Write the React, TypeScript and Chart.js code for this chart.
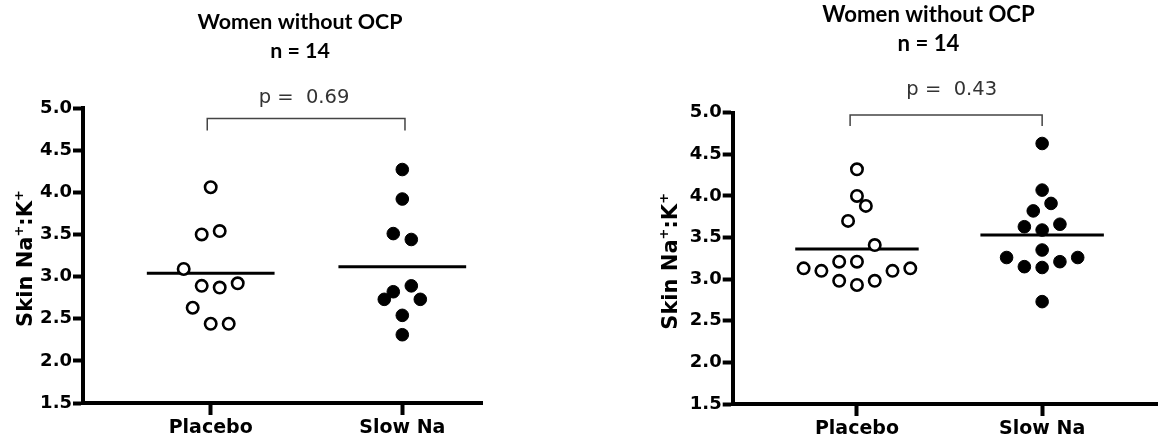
import React, { useEffect, useRef } from "react";
import { Chart, registerables } from "chart.js";

Chart.register(...registerables);

// ---- shared labels ----
const categories = ["Placebo", "Slow Na"];
const yTickValues = [1.5, 2.0, 2.5, 3.0, 3.5, 4.0, 4.5, 5.0];
const panelTitle = "Women without OCP";
const panelSubtitle = "n = 14";

// ---- left panel: skin Na+:K+ per participant, with swarm column slot ----
const leftPlaceboValues = [4.06, 3.5, 3.54, 3.09, 2.89, 2.87, 2.92, 2.63, 2.44, 2.44];
const leftPlaceboSlots = [0, -1, 1, -3, -1, 1, 3, -2, 0, 2];
const leftSlowNaValues = [4.27, 3.92, 3.51, 3.44, 2.82, 2.89, 2.73, 2.73, 2.54, 2.31];
const leftSlowNaSlots = [0, 0, -1, 1, -1, 1, -2, 2, 0, 0];
const leftPValue = "0.69";

// ---- right panel ----
const rightPlaceboValues = [4.32, 4.0, 3.88, 3.7, 3.41, 3.21, 3.21, 3.13, 3.1, 3.1, 3.13, 2.98, 2.93, 2.98];
const rightPlaceboSlots = [0, 0, 1, -1, 2, -2, 0, -6, -4, 4, 6, -2, 0, 2];
const rightSlowNaValues = [4.63, 4.07, 3.91, 3.82, 3.63, 3.66, 3.59, 3.35, 3.26, 3.26, 3.15, 3.14, 3.21, 2.73];
const rightSlowNaSlots = [0, 0, 1, -1, -2, 2, 0, 0, -4, 4, -2, 0, 2, 0];
const rightPValue = "0.43";

const CANVAS_W = 583;
const CANVAS_H = 445;

const mean = (a: number[]) => a.reduce((s, v) => s + v, 0) / a.length;

// Titles, significance bracket and the rotated y-axis title
const panelTextPlugin = {
  id: "panelText",
  afterDraw(chart: any, _args: any, o: any) {
    const { ctx, chartArea, scales } = chart;
    const xs = scales.x;
    ctx.save();

    // two-line panel heading
    ctx.fillStyle = "#000";
    ctx.textAlign = "center";
    ctx.textBaseline = "alphabetic";
    ctx.font = `bold ${o.titleSize}px Lato`;
    ctx.fillText(panelTitle, o.titleX, o.titleY1);
    ctx.fillText(panelSubtitle, o.titleX, o.titleY2);

    // bracket between the two groups
    const bx1 = xs.getPixelForValue(o.bracketFrom);
    const bx2 = xs.getPixelForValue(o.bracketTo);
    ctx.strokeStyle = "#444";
    ctx.lineWidth = 1.5;
    ctx.beginPath();
    ctx.moveTo(bx1, o.bracketY + o.bracketDrop);
    ctx.lineTo(bx1, o.bracketY);
    ctx.lineTo(bx2, o.bracketY);
    ctx.lineTo(bx2, o.bracketY + o.bracketDrop);
    ctx.stroke();

    // p value
    ctx.fillStyle = "#333";
    ctx.font = "19.5px 'DejaVu Sans'";
    ctx.fillText(`p =  ${o.p}`, o.pX, o.pY);

    // y-axis title with superscripts
    const parts: [string, boolean][] = [
      ["Skin Na", false],
      ["+", true],
      [":K", false],
      ["+", true],
    ];
    const mainFont = "bold 21px 'DejaVu Sans'";
    const supFont = "bold 13px 'DejaVu Sans'";
    let total = 0;
    for (const [t, sup] of parts) {
      ctx.font = sup ? supFont : mainFont;
      total += ctx.measureText(t).width;
    }
    ctx.translate(o.yTitleX, (chartArea.top + chartArea.bottom) / 2 + 3);
    ctx.rotate(-Math.PI / 2);
    ctx.fillStyle = "#000";
    ctx.textAlign = "left";
    let cx = -total / 2;
    for (const [t, sup] of parts) {
      ctx.font = sup ? supFont : mainFont;
      ctx.fillText(t, cx, sup ? -9 : 0);
      cx += ctx.measureText(t).width;
    }
    ctx.restore();
  },
};

type PanelSpec = {
  placebo: number[];
  placeboSlots: number[];
  slowNa: number[];
  slowNaSlots: number[];
  p: string;
  areaLeft: number;
  areaTop: number;
  areaBottom: number;
  padRight: number;
  xMin: number;
  xMax: number;
  slotUnit: number;
  text: any;
};

function buildConfig(s: PanelSpec): any {
  const pts = (vals: number[], slots: number[], center: number) =>
    vals.map((v, i) => ({ x: center + slots[i] * s.slotUnit, y: v }));
  const meanLine = (vals: number[], center: number) => {
    const m = mean(vals);
    return [
      { x: center - 1 / 3, y: m },
      { x: center + 1 / 3, y: m },
    ];
  };
  return {
    type: "scatter",
    data: {
      datasets: [
        {
          data: meanLine(s.placebo, 1),
          showLine: true,
          borderColor: "#000",
          borderWidth: 3,
          pointRadius: 0,
          order: 2,
        },
        {
          data: meanLine(s.slowNa, 2),
          showLine: true,
          borderColor: "#000",
          borderWidth: 3,
          pointRadius: 0,
          order: 2,
        },
        {
          data: pts(s.placebo, s.placeboSlots, 1),
          pointStyle: "circle",
          pointRadius: 5.7,
          borderWidth: 2.6,
          borderColor: "#000",
          backgroundColor: "#fff",
          order: 1,
        },
        {
          data: pts(s.slowNa, s.slowNaSlots, 2),
          pointStyle: "circle",
          pointRadius: 6.3,
          borderWidth: 1,
          borderColor: "#000",
          backgroundColor: "#000",
          order: 1,
        },
      ],
    },
    options: {
      animation: false,
      responsive: false,
      maintainAspectRatio: false,
      events: [],
      layout: { padding: { left: 0, right: s.padRight, top: s.areaTop, bottom: 0 } },
      plugins: {
        legend: { display: false },
        tooltip: { enabled: false },
        title: { display: false },
        panelText: { ...s.text, p: s.p },
      },
      scales: {
        x: {
          type: "linear",
          min: s.xMin,
          max: s.xMax,
          afterBuildTicks: (axis: any) => {
            axis.ticks = categories.map((_, i) => ({ value: i + 1 }));
          },
          afterFit: (axis: any) => {
            axis.height = CANVAS_H - s.areaBottom;
          },
          ticks: {
            autoSkip: false,
            maxRotation: 0,
            padding: 2,
            color: "#000",
            font: { family: "'DejaVu Sans'", weight: "bold", size: 19 },
            callback: (v: any) => categories[Math.round(Number(v)) - 1] ?? "",
          },
          grid: {
            display: true,
            drawOnChartArea: false,
            drawTicks: true,
            tickLength: 12,
            tickWidth: 4,
            tickColor: "#000",
          },
          border: { display: true, width: 4, color: "#000" },
        },
        y: {
          type: "linear",
          min: 1.5,
          max: 5,
          afterBuildTicks: (axis: any) => {
            axis.ticks = yTickValues.map((v) => ({ value: v }));
          },
          afterFit: (axis: any) => {
            axis.width = s.areaLeft;
          },
          ticks: {
            padding: 1,
            color: "#000",
            font: { family: "'DejaVu Sans'", weight: "bold", size: 18 },
            callback: (v: any) => Number(v).toFixed(1),
          },
          grid: {
            display: true,
            drawOnChartArea: false,
            drawTicks: true,
            tickLength: 10,
            tickWidth: 4,
            tickColor: "#000",
          },
          border: { display: true, width: 4, color: "#000" },
        },
      },
    },
    plugins: [panelTextPlugin],
  };
}

const leftSpec: PanelSpec = {
  placebo: leftPlaceboValues,
  placeboSlots: leftPlaceboSlots,
  slowNa: leftSlowNaValues,
  slowNaSlots: leftSlowNaSlots,
  p: leftPValue,
  areaLeft: 83,
  areaTop: 108,
  areaBottom: 403,
  padRight: CANVAS_W - 482,
  xMin: 0.3335,
  xMax: 2.416,
  slotUnit: 0.047,
  text: {
    titleSize: 21.4,
    titleX: 300,
    titleY1: 28.5,
    titleY2: 57.5,
    bracketFrom: 0.982,
    bracketTo: 2.014,
    bracketY: 118.5,
    bracketDrop: 12,
    pX: 304,
    pY: 102.5,
    yTitleX: 31.5,
  },
};

const rightSpec: PanelSpec = {
  placebo: rightPlaceboValues,
  placeboSlots: rightPlaceboSlots,
  slowNa: rightSlowNaValues,
  slowNaSlots: rightSlowNaSlots,
  p: rightPValue,
  areaLeft: 149.7,
  areaTop: 112.7,
  areaBottom: 404,
  padRight: 3,
  xMin: 0.329,
  xMax: 2.624,
  slotUnit: 0.048,
  text: {
    titleSize: 22.2,
    titleX: 345.5,
    titleY1: 21.7,
    titleY2: 50.7,
    bracketFrom: 0.963,
    bracketTo: 2.0,
    bracketY: 115,
    bracketDrop: 11,
    pX: 368.7,
    pY: 95,
    yTitleX: 93.7,
  },
};

function Panel({ spec, left }: { spec: PanelSpec; left: number }) {
  const ref = useRef<HTMLCanvasElement | null>(null);
  useEffect(() => {
    if (!ref.current) return;
    const chart = new Chart(ref.current, buildConfig(spec));
    return () => chart.destroy();
  }, [spec]);
  return (
    <canvas
      ref={ref}
      width={CANVAS_W}
      height={CANVAS_H}
      style={{ position: "absolute", left, top: 0, width: CANVAS_W, height: CANVAS_H, display: "block" }}
    />
  );
}

export default function App() {
  return (
    <div
      style={{
        position: "fixed",
        left: 0,
        top: 0,
        width: CANVAS_W * 2,
        height: CANVAS_H,
        background: "#fff",
        overflow: "hidden",
      }}
    >
      <Panel spec={leftSpec} left={0} />
      <Panel spec={rightSpec} left={CANVAS_W} />
    </div>
  );
}
